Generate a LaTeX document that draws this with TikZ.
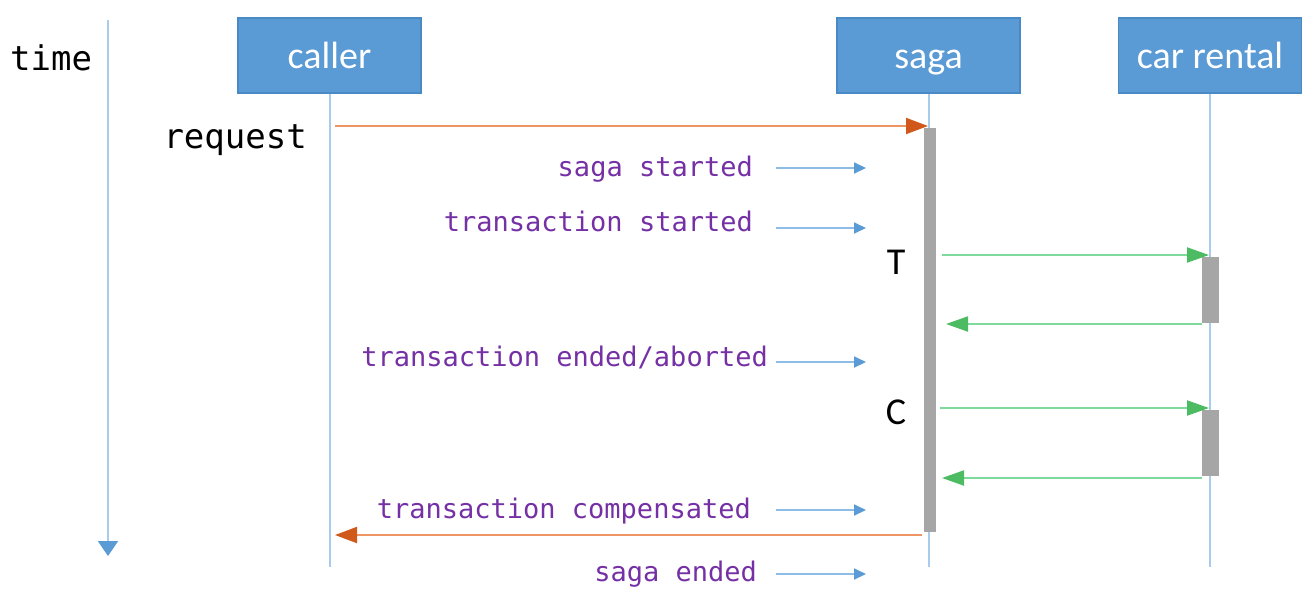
\documentclass[tikz,border=0pt]{standalone}
\usepackage{fontspec}
\setmainfont{Carlito}
\newfontfamily\monof{DejaVu Sans Mono}
\usetikzlibrary{arrows.meta}
\definecolor{boxblue}{HTML}{5B9BD5}
\definecolor{boxedge}{HTML}{4A8AC4}
\definecolor{lifeblue}{HTML}{A9CBEC}
\definecolor{arrblue}{HTML}{5B9BD5}
\definecolor{arrblueline}{HTML}{8DBCE6}
\definecolor{evpurple}{HTML}{7430A4}
\definecolor{barfill}{HTML}{A6A6A6}
\definecolor{orline}{HTML}{EE9566}
\definecolor{orhead}{HTML}{D0581A}
\definecolor{grline}{HTML}{7DDA9A}
\definecolor{grhead}{HTML}{4CBB62}
\begin{document}
\begin{tikzpicture}[x=1pt,y=-1pt,
  actor/.style={draw=boxedge,line width=1.2pt,fill=boxblue,text=white,
    minimum width=183pt,minimum height=75pt,inner sep=0pt,
    text height=30pt,text depth=5pt,
    font=\fontsize{38}{44}\selectfont},
  life/.style={draw=lifeblue,line width=2pt},
  actbar/.style={fill=barfill,draw=none,inner sep=0pt},
  evt/.style={text=evpurple,font=\monof\fontsize{27}{32}\selectfont,anchor=base east,inner sep=0pt},
  big/.style={font=\monof\fontsize{34}{40}\selectfont,inner sep=0pt},
  evarrow/.style={draw=arrblueline,line width=1.8pt,-{Triangle[length=12pt,width=11pt,color=arrblue]}},
  orarrow/.style={draw=orline,line width=2pt,-{Triangle[length=22pt,width=16pt,color=orhead]}},
  grarrow/.style={draw=grline,line width=2pt,-{Triangle[length=22pt,width=15pt,color=grhead]}},
  tletter/.style={font=\fontsize{38}{44}\selectfont,inner sep=0pt}
]
\useasboundingbox (0,0) rectangle (1316,598);

% time axis
\node[big,anchor=base west] (timelbl) at (10,70) {time};
\coordinate (t0) at (108,20);
\coordinate (t1) at (108,556);
\draw[draw=lifeblue,line width=2pt,-{Triangle[length=15pt,width=20pt,color=arrblue]}] (t0) -- (t1);

% actors
\node[actor] (caller) at (329.5,55.5) {caller};
\node[actor] (saga) at (928.5,55.5) {saga};
\node[actor] (car) at (1210,55.5) {car rental};

\coordinate (callerEnd) at (caller.south |- 0,567);
\coordinate (sagaEnd) at (saga.south |- 0,567);
\coordinate (carEnd) at (car.south |- 0,567);
\draw[life] (caller.south) -- (callerEnd);
\draw[life] (saga.south) -- (sagaEnd);
\draw[life] (car.south) -- (carEnd);

% activation bars
\node[actbar,minimum width=12pt,minimum height=404pt] (sagaAct) at (930,330) {};
\node[actbar,minimum width=17pt,minimum height=66pt] (carActA) at (1210.5,290) {};
\node[actbar,minimum width=17pt,minimum height=66pt] (carActB) at (1210.5,443) {};

% request
\node[big,anchor=base east] (reqlbl) at (307,148) {request};
\coordinate (reqS) at (335,126);
\coordinate (reqE) at (928,126);
\draw[orarrow] (reqS) -- (reqE);

% T and C
\node[tletter] (Tlbl) at (896,262) {T};
\node[tletter] (Clbl) at (896,412) {C};

% green calls
\coordinate (g1s) at (942,255);
\coordinate (g1e) at (1209,255);
\draw[grarrow] (g1s) -- (g1e);
\coordinate (g2s) at (1202,324);
\coordinate (g2e) at (946,324);
\draw[grarrow] (g2s) -- (g2e);
\coordinate (g3s) at (940,408);
\coordinate (g3e) at (1209,408);
\draw[grarrow] (g3s) -- (g3e);
\coordinate (g4s) at (1202,478);
\coordinate (g4e) at (942,478);
\draw[grarrow] (g4s) -- (g4e);

% response
\coordinate (resS) at (922,535);
\coordinate (resE) at (335,535);
\draw[orarrow] (resS) -- (resE);

% events
\node[evt] (ev1) at (753,176) {saga started};
\node[evt] (ev2) at (753,231) {transaction started};
\node[evt] (ev3) at (768,366) {transaction ended/aborted};
\node[evt] (ev4) at (751,518) {transaction compensated};
\node[evt] (ev5) at (757,581) {saga ended};

\coordinate (e1s) at (776,168); \coordinate (e1e) at (866,168);
\coordinate (e2s) at (776,228); \coordinate (e2e) at (866,228);
\coordinate (e3s) at (776,362); \coordinate (e3e) at (866,362);
\coordinate (e4s) at (776,510); \coordinate (e4e) at (866,510);
\coordinate (e5s) at (776,574); \coordinate (e5e) at (866,574);
\draw[evarrow] (e1s) -- (e1e);
\draw[evarrow] (e2s) -- (e2e);
\draw[evarrow] (e3s) -- (e3e);
\draw[evarrow] (e4s) -- (e4e);
\draw[evarrow] (e5s) -- (e5e);
\end{tikzpicture}
\end{document}
